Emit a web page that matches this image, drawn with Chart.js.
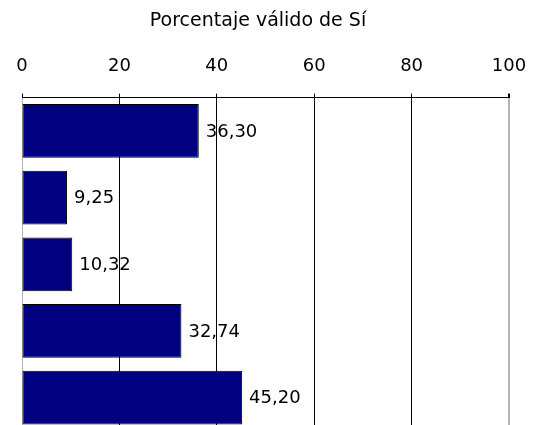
<!DOCTYPE html>
<html>
<head>
<meta charset="utf-8">
<script src="https://cdn.jsdelivr.net/npm/chart.js@4/dist/chart.umd.min.js"></script>
<style>
  html, body { margin: 0; padding: 0; background: #fff; overflow: hidden; }
  #wrap { width: 535px; height: 432px; }
</style>
</head>
<body>
<div id="wrap"><canvas id="chart" width="535" height="432"></canvas></div>
<script>
// Data
const categories = ['1', '2', '3', '4', '5'];
const values = [36.30, 9.25, 10.32, 32.74, 45.20];
const tickValues = [0, 20, 40, 60, 80, 100];
const chartTitle = 'Porcentaje válido de Sí';

const FONT = { family: 'DejaVu Sans', size: 18 };
const edgeGray = '#b4b4b4';

// title, drawn a bit left of the plot centre like the original
const titlePlugin = {
  id: 'topTitle',
  afterDraw(chart) {
    const c = chart.ctx;
    c.save();
    c.font = `19px ${FONT.family}`;
    c.fillStyle = '#000';
    c.textAlign = 'center';
    c.textBaseline = 'middle';
    c.fillText(chartTitle, 258, 21);
    c.restore();
  }
};

// value labels to the right of each bar, comma decimals
const valueLabels = {
  id: 'valueLabels',
  afterDatasetsDraw(chart) {
    const c = chart.ctx;
    const meta = chart.getDatasetMeta(0);
    c.save();
    c.font = `${FONT.size}px ${FONT.family}`;
    c.fillStyle = '#000';
    c.textAlign = 'left';
    c.textBaseline = 'middle';
    meta.data.forEach((bar, i) => {
      c.fillText(values[i].toFixed(2).replace('.', ','), bar.x + 7, bar.y + 1);
    });
    c.restore();
  }
};

new Chart(document.getElementById('chart'), {
  type: 'bar',
  data: {
    labels: categories,
    datasets: [{
      data: values,
      backgroundColor: '#000080',
      borderColor: '#000',
      borderWidth: 1,
      borderSkipped: false,
      categoryPercentage: 1,
      barPercentage: 0.806
    }]
  },
  options: {
    indexAxis: 'y',
    responsive: false,
    animation: false,
    layout: { padding: { top: 40, left: 22, right: 26, bottom: 1 } },
    plugins: {
      legend: { display: false },
      tooltip: { enabled: false },
      title: { display: false }
    },
    scales: {
      x: {
        position: 'top',
        min: 0,
        max: 100,
        afterBuildTicks: axis => { axis.ticks = tickValues.map(v => ({ value: v })); },
        // let the layout padding alone decide where the plot starts and ends
        afterFit: axis => { axis.paddingLeft = 0; axis.paddingRight = 0; },
        ticks: { color: '#000', font: FONT, padding: 16, maxRotation: 0 },
        grid: {
          color: ctx => (ctx.tick && (ctx.tick.value === 0 || ctx.tick.value === 100)) ? edgeGray : '#000',
          lineWidth: ctx => (ctx.tick && ctx.tick.value === 100) ? 2 : 1,
          tickColor: '#000',
          tickLength: 4
        },
        border: { color: '#000', width: 1 }
      },
      y: { display: false }
    }
  },
  plugins: [titlePlugin, valueLabels]
});
</script>
</body>
</html>
